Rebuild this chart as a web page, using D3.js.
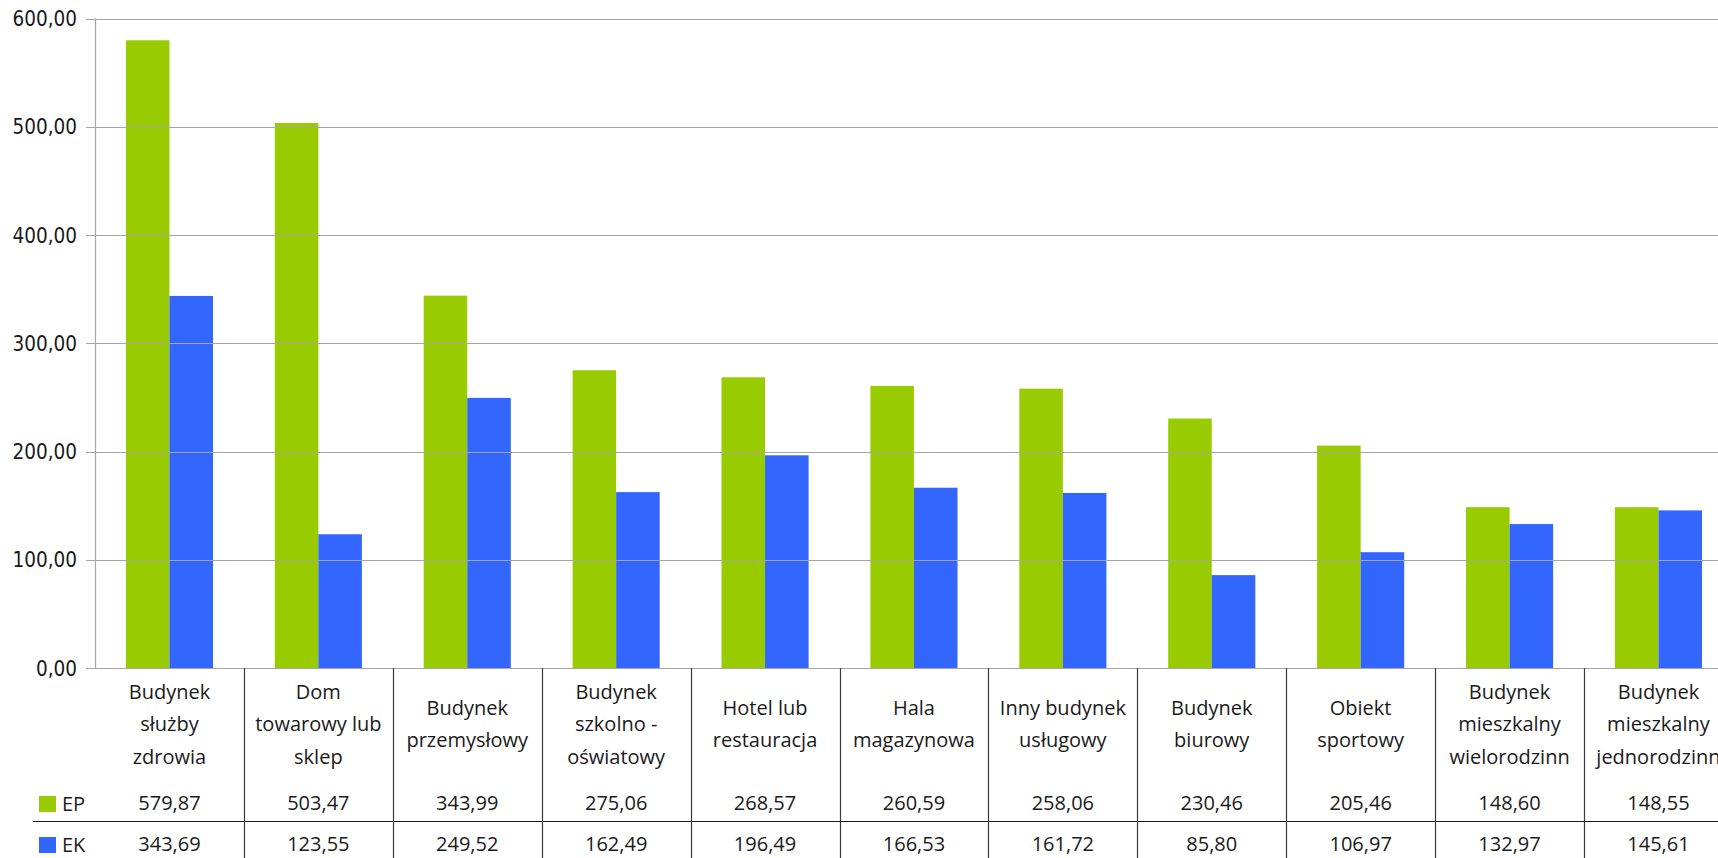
<!DOCTYPE html>
<html>
<head>
<meta charset="utf-8">
<script src="https://cdn.jsdelivr.net/npm/d3@7"></script>
<style>
  html, body { margin: 0; padding: 0; background: #ffffff; overflow: hidden; }
  svg { display: block; }
</style>
</head>
<body>
<svg id="chart" width="1718" height="858"></svg>
<script>
// ---- data ----
const categories = [
  "Budynek służby zdrowia",
  "Dom towarowy lub sklep",
  "Budynek przemysłowy",
  "Budynek szkolno - oświatowy",
  "Hotel lub restauracja",
  "Hala magazynowa",
  "Inny budynek usługowy",
  "Budynek biurowy",
  "Obiekt sportowy",
  "Budynek mieszkalny wielorodzinn",
  "Budynek mieszkalny jednorodzinn"
];
const categoryLines = [
  ["Budynek", "służby", "zdrowia"],
  ["Dom", "towarowy lub", "sklep"],
  ["Budynek", "przemysłowy"],
  ["Budynek", "szkolno -", "oświatowy"],
  ["Hotel lub", "restauracja"],
  ["Hala", "magazynowa"],
  ["Inny budynek", "usługowy"],
  ["Budynek", "biurowy"],
  ["Obiekt", "sportowy"],
  ["Budynek", "mieszkalny", "wielorodzinn"],
  ["Budynek", "mieszkalny", "jednorodzinn"]
];
const seriesNames = ["EP", "EK"];
const seriesColors = ["#99CC00", "#3366FF"];
const EP = [579.87, 503.47, 343.99, 275.06, 268.57, 260.59, 258.06, 230.46, 205.46, 148.60, 148.55];
const EK = [343.69, 123.55, 249.52, 162.49, 196.49, 166.53, 161.72, 85.80, 106.97, 132.97, 145.61];
const yTicks = [0, 100, 200, 300, 400, 500, 600];

// ---- layout ----
const svg = d3.select("#chart");
const W = 1718, H = 858;
const plotLeft = 95, plotTop = 18.5, plotBottom = 668;
const step = 148.9;
const plotRight = plotLeft + categories.length * step;

const fmt = v => d3.format(".2f")(v).replace(".", ",");

const x0 = d3.scaleBand().domain(categories).range([plotLeft, plotRight])
  .paddingInner(0.415).paddingOuter(0.2075);
const x1 = d3.scaleBand().domain(seriesNames).range([0, x0.bandwidth()]).padding(0);
const y = d3.scaleLinear().domain([0, 600]).range([plotBottom, plotTop]);

const seriesData = [EP, EK];

// bars
const groups = svg.append("g").selectAll("g")
  .data(categories).join("g")
  .attr("transform", d => `translate(${x0(d)},0)`);
groups.selectAll("rect")
  .data((d, i) => seriesNames.map((s, j) => ({ s, v: seriesData[j][i], c: seriesColors[j] })))
  .join("rect")
  .attr("x", d => x1(d.s))
  .attr("width", x1.bandwidth())
  .attr("y", d => y(d.v))
  .attr("height", d => y(0) - y(d.v))
  .attr("fill", d => d.c);

// gridlines (drawn over bars)
svg.append("g").selectAll("line")
  .data(yTicks).join("line")
  .attr("x1", plotLeft - 9).attr("x2", W)
  .attr("y1", d => Math.round(y(d)) + 0.5).attr("y2", d => Math.round(y(d)) + 0.5)
  .attr("stroke", "#a6a6a6").attr("stroke-width", 1.2);

// y axis line
svg.append("line")
  .attr("x1", plotLeft + 0.5).attr("x2", plotLeft + 0.5)
  .attr("y1", plotTop).attr("y2", plotBottom + 0.5)
  .attr("stroke", "#a6a6a6").attr("stroke-width", 1.2);

// y tick labels
svg.append("g").selectAll("text")
  .data(yTicks).join("text")
  .attr("x", 77).attr("y", d => y(d) + 7.5)
  .attr("text-anchor", "end")
  .attr("font-family", "'DejaVu Sans Condensed', 'DejaVu Sans', sans-serif")
  .attr("font-stretch", "condensed")
  .attr("font-size", 20.5)
  .attr("fill", "#1a1a1a")
  .text(d => fmt(d));

// data table
const table = svg.append("g");
const boundaries = d3.range(1, categories.length + 1).map(i => plotLeft + i * step);
table.selectAll("line.v")
  .data(boundaries).join("line")
  .attr("class", "v")
  .attr("x1", d => Math.round(d) + 0.5).attr("x2", d => Math.round(d) + 0.5)
  .attr("y1", plotBottom).attr("y2", H)
  .attr("stroke", "#3a3a3a").attr("stroke-width", 1.2);
table.append("line")
  .attr("x1", 33).attr("x2", W)
  .attr("y1", 821.5).attr("y2", 821.5)
  .attr("stroke", "#1a1a1a").attr("stroke-width", 1.2);

const textFont = "'Open Sans', 'Liberation Sans', sans-serif";
const lineH = 32.5;
const midBaseline = 731;
const catText = table.selectAll("text.cat")
  .data(categories).join("text")
  .attr("class", "cat")
  .attr("text-anchor", "middle")
  .attr("font-family", textFont)
  .attr("font-size", 20)
  .attr("fill", "#1a1a1a");
catText.each(function (d, i) {
  const lines = categoryLines[i];
  const cx = x0(d) + x0.bandwidth() / 2;
  const startY = midBaseline - (lines.length - 1) * lineH / 2;
  d3.select(this).selectAll("tspan").data(lines).join("tspan")
    .attr("x", cx)
    .attr("y", (l, k) => startY + k * lineH)
    .text(l => l);
});

// value rows
const rowBaselines = [810, 851];
seriesNames.forEach((s, j) => {
  table.append("g").selectAll("text")
    .data(categories).join("text")
    .attr("x", d => x0(d) + x0.bandwidth() / 2)
    .attr("y", rowBaselines[j])
    .attr("text-anchor", "middle")
    .attr("font-family", textFont)
    .attr("font-size", 20)
    .attr("fill", "#1a1a1a")
    .text((d, i) => fmt(seriesData[j][i]));
  // legend key
  table.append("rect")
    .attr("x", 39).attr("y", rowBaselines[j] - 14)
    .attr("width", 17).attr("height", 16)
    .attr("fill", seriesColors[j]);
  table.append("text")
    .attr("x", 62).attr("y", rowBaselines[j] + 1)
    .attr("font-family", textFont)
    .attr("font-size", 20)
    .attr("fill", "#1a1a1a")
    .text(s);
});
</script>
</body>
</html>
